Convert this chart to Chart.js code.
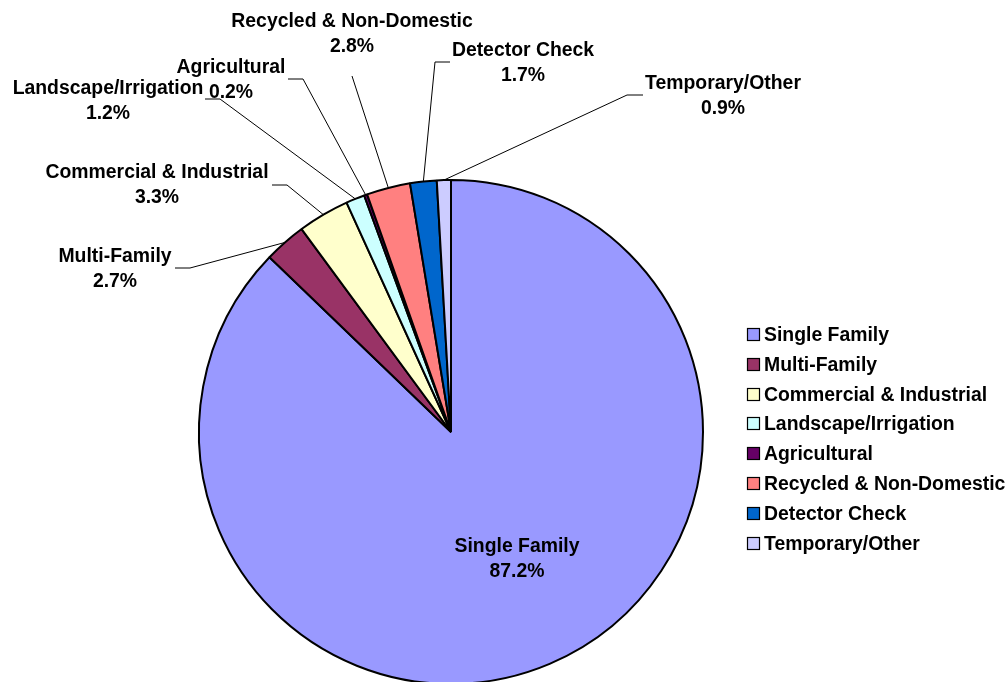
<!DOCTYPE html>
<html>
<head>
<meta charset="utf-8">
<script src="https://cdn.jsdelivr.net/npm/chart.js@4.4.1/dist/chart.umd.min.js"></script>
<style>
  html, body { margin: 0; padding: 0; background: #fff; overflow: hidden; }
  #wrap { width: 1007px; height: 700px; }
</style>
</head>
<body>
<div id="wrap"><canvas id="usage-pie"></canvas></div>
<script>
const categories = ['Single Family', 'Multi-Family', 'Commercial & Industrial', 'Landscape/Irrigation',
                    'Agricultural', 'Recycled & Non-Domestic', 'Detector Check', 'Temporary/Other'];
const shares = [87.2, 2.7, 3.3, 1.2, 0.2, 2.8, 1.7, 0.9];
const sliceColors = ['#9999FF', '#993366', '#FFFFCC', '#CCFFFF', '#660066', '#FF8080', '#0066CC', '#CCCCFF'];

const FONT = 'bold 19.4px "Liberation Sans", Arial, sans-serif';

// where each slice's label sits, and the short elbow its leader line starts from
const labelSpots = [
    { x: 517, y: 545, line: null },
    { x: 115, y: 255, line: [[175, 268], [190, 268]] },
    { x: 157, y: 171, line: [[272, 185], [287, 185]] },
    { x: 108, y: 87,  line: [[205, 99], [220, 99]] },
    { x: 231, y: 66,  line: [[288, 79], [303, 79]] },
    { x: 352, y: 20,  line: [[352, 76]] },
    { x: 523, y: 49,  line: [[450, 62], [435, 62]] },
    { x: 723, y: 82,  line: [[643, 95], [627, 95]] }
];

const sliceLabels = {
    id: 'sliceLabels',
    afterDatasetsDraw(chart) {
        const ctx = chart.ctx;
        const arcs = chart.getDatasetMeta(0).data;
        ctx.save();
        ctx.strokeStyle = '#000';
        ctx.lineWidth = 1;
        arcs.forEach((arc, i) => {
            const spot = labelSpots[i];
            if (spot.line) {
                const mid = (arc.startAngle + arc.endAngle) / 2;
                ctx.beginPath();
                ctx.moveTo(spot.line[0][0], spot.line[0][1]);
                for (let k = 1; k < spot.line.length; k++) ctx.lineTo(spot.line[k][0], spot.line[k][1]);
                ctx.lineTo(arc.x + arc.outerRadius * Math.cos(mid), arc.y + arc.outerRadius * Math.sin(mid));
                ctx.stroke();
            }
            ctx.font = FONT;
            ctx.fillStyle = '#000';
            ctx.textAlign = 'center';
            ctx.textBaseline = 'alphabetic';
            ctx.fillText(categories[i], spot.x, spot.y + 7);
            ctx.fillText(shares[i].toFixed(1) + '%', spot.x, spot.y + 32);
        });
        ctx.restore();
    }
};

// legend drawn by hand so the rows line up like the original sheet
const sideLegend = {
    id: 'sideLegend',
    afterDraw(chart) {
        const ctx = chart.ctx;
        ctx.save();
        ctx.font = FONT;
        ctx.textAlign = 'left';
        ctx.textBaseline = 'alphabetic';
        categories.forEach((name, i) => {
            const cy = 334 + i * 29.8;
            ctx.fillStyle = sliceColors[i];
            ctx.fillRect(747, Math.round(cy) - 6, 12, 12);
            ctx.strokeStyle = '#000';
            ctx.lineWidth = 1.2;
            ctx.strokeRect(747.5, Math.round(cy) - 5.5, 12, 12);
            ctx.fillStyle = '#000';
            ctx.fillText(name, 764, cy + 7);
        });
        ctx.restore();
    }
};

new Chart(document.getElementById('usage-pie'), {
    type: 'pie',
    data: {
        labels: categories,
        datasets: [{
            data: shares,
            backgroundColor: sliceColors,
            borderColor: '#000',
            borderWidth: 2
        }]
    },
    options: {
        responsive: true,
        maintainAspectRatio: false,
        animation: false,
        layout: { padding: { left: 198, right: 303, top: 179, bottom: 15 } },
        plugins: {
            legend: { display: false },
            tooltip: { enabled: false }
        }
    },
    plugins: [sliceLabels, sideLegend]
});
</script>
</body>
</html>
